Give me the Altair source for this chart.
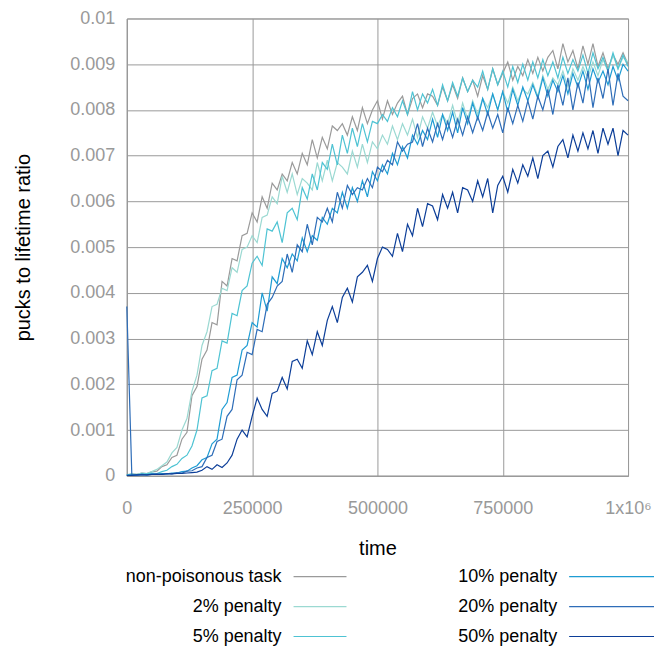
import altair as alt
import pandas as pd

# ---------------- data (ratio values in thousandths, i.e. x 0.001) ----------------
STEP = 10000
times = [i * STEP for i in range(101)]

series_names = ["non-poisonous task", "2% penalty", "5% penalty",
                "10% penalty", "20% penalty", "50% penalty"]
series_colors = ["#9a9a9a", "#9bd9d2", "#4ec3d3", "#1e9cd3", "#2e6db8", "#0c3e98"]

non_poisonous = [
    0.02, 0.04, 0.03, 0.06, 0.05, 0.09, 0.10, 0.20, 0.24, 0.40,
    0.45, 0.80, 0.95, 1.75, 1.95, 2.55, 2.75, 3.35, 3.30, 4.25,
    4.15, 4.75, 4.70, 5.25, 5.30, 5.75, 5.55, 6.10, 5.85, 6.40,
    6.25, 6.60, 6.45, 6.85, 6.60, 7.05, 6.80, 7.35, 6.95, 7.40,
    7.15, 7.65, 7.55, 7.70, 7.45, 7.85, 7.55, 8.05, 7.70, 8.00,
    8.20, 7.80, 8.20, 7.90, 8.15, 8.30, 7.90, 8.25, 8.35, 8.05,
    8.35, 8.30, 8.10, 8.50, 8.20, 8.55, 8.25, 8.70, 8.40, 8.65,
    8.30, 8.75, 8.45, 8.90, 8.55, 8.80, 9.05, 8.65, 8.95, 8.75,
    9.10, 8.80, 9.15, 8.85, 9.15, 9.30, 8.90, 9.45, 9.05, 9.30,
    8.90, 9.40, 9.00, 9.45, 8.95, 9.25, 8.90, 9.20, 9.00, 9.25,
    9.00,
]
penalty_2 = [
    0.02, 0.04, 0.03, 0.06, 0.05, 0.09, 0.14, 0.22, 0.30, 0.50,
    0.62, 1.00, 1.25, 1.85, 2.20, 2.85, 3.15, 3.70, 3.75, 4.10,
    4.05, 4.55, 4.45, 4.95, 5.00, 5.25, 5.10, 5.65, 5.70, 6.10,
    5.95, 6.55, 6.20, 6.60, 6.15, 6.50, 6.40, 6.25, 6.85, 6.45,
    6.90, 6.45, 6.85, 6.75, 6.60, 7.10, 6.75, 7.25, 6.85, 7.30,
    7.15, 7.45, 7.25, 7.65, 7.35, 7.70, 7.45, 7.80, 7.40, 7.85,
    7.60, 7.95, 7.65, 7.90, 7.70, 8.10, 7.70, 8.15, 7.80, 8.20,
    7.90, 8.25, 8.05, 8.35, 8.00, 8.40, 8.15, 8.50, 8.20, 8.45,
    8.35, 8.60, 8.30, 8.75, 8.45, 8.70, 8.55, 8.85, 8.50, 8.90,
    8.65, 8.95, 8.70, 9.05, 8.75, 9.10, 8.85, 9.20, 8.90, 9.15,
    9.05,
]
penalty_5 = [
    0.02, 0.03, 0.02, 0.04, 0.04, 0.06, 0.05, 0.09, 0.12, 0.20,
    0.25, 0.38, 0.45, 0.65, 1.00, 1.70, 1.75, 2.30, 2.35, 2.95,
    2.90, 3.55, 3.50, 4.05, 4.15, 4.65, 4.80, 4.60, 5.40, 5.35,
    5.55, 5.10, 5.75, 5.85, 5.60, 6.30, 6.05, 6.60, 6.25, 6.85,
    6.70, 7.25, 6.80, 7.45, 7.05, 7.60, 7.20, 7.70, 7.30, 7.75,
    7.70, 7.90, 7.75, 8.05, 7.85, 8.20, 7.90, 8.40, 8.00, 8.35,
    8.15, 8.45, 8.10, 8.55, 8.20, 8.60, 8.30, 8.70, 8.40, 8.65,
    8.50, 8.85, 8.45, 8.90, 8.55, 8.85, 8.50, 8.95, 8.60, 9.00,
    8.65, 9.05, 8.70, 9.10, 8.75, 9.05, 8.70, 9.15, 8.80, 9.10,
    8.85, 9.20, 8.80, 9.25, 8.90, 9.15, 8.85, 9.25, 8.90, 9.20,
    8.95,
]
penalty_10 = [
    0.01, 0.02, 0.02, 0.03, 0.02, 0.04, 0.03, 0.05, 0.04, 0.06,
    0.06, 0.09, 0.10, 0.17, 0.22, 0.35, 0.40, 0.70, 0.80, 1.45,
    1.60, 2.15, 2.20, 2.75, 2.85, 3.35, 3.25, 4.00, 3.60, 4.35,
    4.20, 4.75, 4.55, 4.85, 4.70, 5.20, 4.90, 5.25, 5.15, 5.65,
    5.50, 5.85, 5.75, 6.20, 5.85, 6.30, 6.00, 6.45, 6.10, 6.65,
    6.45, 6.80, 6.60, 7.05, 6.80, 7.20, 6.95, 7.45, 7.25, 7.55,
    7.35, 7.80, 7.40, 7.90, 7.55, 7.95, 7.50, 8.05, 7.70, 8.15,
    7.80, 8.25, 7.90, 8.35, 8.00, 8.40, 7.95, 8.45, 8.10, 8.50,
    8.20, 8.55, 8.25, 8.70, 8.30, 8.65, 8.40, 8.75, 8.35, 8.80,
    8.50, 8.85, 8.45, 8.90, 8.60, 8.85, 8.55, 8.95, 8.65, 9.00,
    8.85,
]
penalty_20 = [
    3.70, 0.02, 0.01, 0.03, 0.02, 0.03, 0.04, 0.03, 0.05, 0.04,
    0.07, 0.06, 0.10, 0.11, 0.17, 0.20, 0.40, 0.45, 0.75, 0.80,
    1.30, 1.45, 2.10, 2.20, 2.70, 2.65, 3.20, 3.15, 3.75, 3.90,
    4.15, 4.25, 4.85, 4.45, 5.05, 4.90, 5.50, 5.05, 5.65, 5.55,
    5.85, 5.55, 6.20, 5.85, 6.35, 6.15, 6.30, 6.25, 6.50, 6.30,
    6.75, 6.65, 6.90, 6.80, 7.30, 7.10, 7.25, 7.30, 7.70, 7.20,
    7.60, 7.30, 7.70, 7.35, 7.75, 7.40, 7.80, 7.45, 7.85, 7.50,
    7.85, 7.55, 7.95, 7.60, 7.90, 7.50, 8.05, 7.70, 8.10, 7.75,
    8.20, 7.80, 8.30, 8.00, 8.45, 7.90, 8.55, 8.10, 8.70, 8.00,
    8.60, 8.15, 8.85, 8.05, 8.70, 8.25, 8.90, 8.10, 8.80, 8.30,
    8.20,
]
penalty_50 = [
    0.01, 0.01, 0.02, 0.02, 0.02, 0.03, 0.03, 0.03, 0.04, 0.04,
    0.05, 0.05, 0.06, 0.07, 0.08, 0.12, 0.20, 0.14, 0.24, 0.18,
    0.28, 0.45, 0.80, 1.00, 0.85, 1.30, 1.70, 1.45, 1.30, 1.80,
    1.85, 2.15, 1.90, 2.50, 2.55, 2.35, 2.95, 2.65, 3.15, 2.85,
    3.40, 3.70, 3.35, 3.90, 4.10, 3.80, 4.35, 4.45, 4.60, 4.25,
    4.75, 5.00, 4.95, 4.80, 5.30, 4.90, 5.50, 5.25, 5.85, 5.45,
    5.95, 5.90, 5.60, 6.15, 5.85, 6.20, 5.75, 6.30, 6.25, 6.00,
    6.45, 6.10, 6.50, 5.75, 6.35, 6.55, 6.20, 6.70, 6.40, 6.80,
    6.55, 6.95, 6.50, 7.00, 7.10, 6.75, 7.20, 7.35, 6.95, 7.45,
    7.10, 7.50, 7.15, 7.55, 7.05, 7.60, 7.25, 7.60, 7.00, 7.55,
    7.45,
]
series_values = [non_poisonous, penalty_2, penalty_5, penalty_10, penalty_20, penalty_50]

y_ticks = [0, 0.001, 0.002, 0.003, 0.004, 0.005, 0.006, 0.007, 0.008, 0.009, 0.01]
x_ticks = [0, 250000, 500000, 750000, 1000000]
x_tick_labels = ["0", "250000", "500000", "750000", "1x10\u2076"]

legend_col = [0, 0, 0, 1, 1, 1]
legend_row = [0, 1, 2, 0, 1, 2]

# ---------------- tables ----------------
rows = []
for order, (name, vals) in enumerate(zip(series_names, series_values)):
    for t, v in zip(times, vals):
        rows.append({"series": name, "time": t, "ratio": v / 1000.0, "k": order})
df = pd.DataFrame(rows)

leg_df = pd.DataFrame({"series": series_names, "col": legend_col, "row": legend_row})

FONT = "Liberation Sans"
GRID = "#9a9a9a"
label_expr = " : ".join(
    [f"datum.value == {v} ? '{l}'" for v, l in zip(x_ticks, x_tick_labels)]
) + " : datum.label"

color_scale = alt.Scale(domain=series_names, range=series_colors)

main = alt.Chart(df).mark_line(strokeWidth=1.2).encode(
    x=alt.X("time:Q",
            scale=alt.Scale(domain=[0, 1000000], nice=False, zero=False),
            axis=alt.Axis(values=x_ticks, format="d", labelExpr=label_expr,
                          title="time", grid=True, gridColor=GRID, gridWidth=1,
                          domainColor=GRID, ticks=False, labelFlush=False,
                          labelFont=FONT, labelFontSize=18, labelColor="#999999",
                          labelPadding=24, titleFont=FONT, titleFontSize=20,
                          titleFontWeight="normal", titleColor="#000000",
                          titlePadding=21)),
    y=alt.Y("ratio:Q",
            scale=alt.Scale(domain=[0, 0.01], nice=False),
            axis=alt.Axis(values=y_ticks, format="~g", title="pucks to lifetime ratio",
                          grid=True, gridColor=GRID, gridWidth=1, domainColor=GRID,
                          ticks=False, labelFont=FONT, labelFontSize=18,
                          labelColor="#999999", labelPadding=12, titleFont=FONT,
                          titleFontSize=20, titleFontWeight="normal",
                          titleColor="#000000", titlePadding=36)),
    color=alt.Color("series:N", scale=color_scale, legend=None),
    order=alt.Order("k:Q"),
).properties(width=502, height=458, view=alt.ViewBackground(stroke=GRID))

leg_base = alt.Chart(leg_df).encode(
    x=alt.X("col:Q", scale=alt.Scale(domain=[0, 1], nice=False), axis=None),
    y=alt.Y("row:O", scale=alt.Scale(type="point", padding=0), axis=None),
)
leg_text = leg_base.mark_text(align="right", baseline="middle", font=FONT,
                              fontSize=18, color="#000000", xOffset=155).encode(
    text="series:N")
leg_rule_left = leg_base.transform_filter("datum.col == 0").mark_rule(
    strokeWidth=1.2, xOffset=167, x2Offset=220).encode(
    x2="col:Q",
    color=alt.Color("series:N", scale=color_scale, legend=None),
)
leg_rule_right = leg_base.transform_filter("datum.col == 1").mark_rule(
    strokeWidth=1.2, xOffset=167, x2Offset=252).encode(
    x2="col:Q",
    color=alt.Color("series:N", scale=color_scale, legend=None),
)
legend = alt.layer(leg_text, leg_rule_left, leg_rule_right).properties(
    width=276, height=60, view=alt.ViewBackground(stroke="transparent"))

chart = alt.vconcat(main, legend, spacing=101, bounds="flush").properties(
    padding={"left": 5, "top": 0, "right": 0, "bottom": 0}
).configure(font=FONT)

chart.save("out.html", embed_options={"renderer": "svg", "actions": False})
